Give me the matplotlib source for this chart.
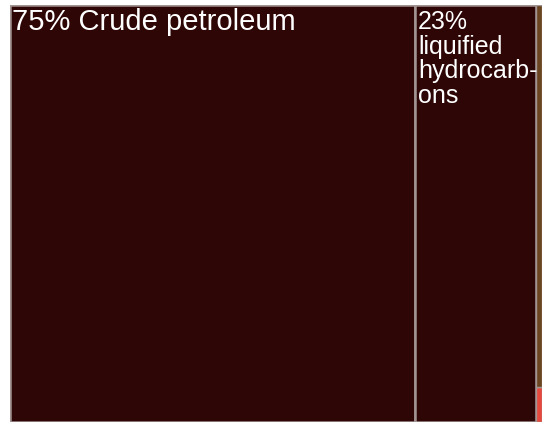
import matplotlib
matplotlib.use("Agg")
import matplotlib.pyplot as plt
from matplotlib.patches import Rectangle

# Data
labels = ["Crude petroleum", "liquified\nhydrocarb-\nons", "Other", "Other 2"]
pct_labels = ["75%", "23%"]
shares = [76.1, 22.8, 0.85, 0.25]
colors = ["#2d0605", "#2d0605", "#6b4420", "#e5483c"]

fig = plt.figure(figsize=(5.42, 4.26), dpi=100)
ax = fig.add_axes([10/542, 4/426, 532/542, 417/426])
ax.set_xlim(0, 100)
ax.set_ylim(0, 100)
ax.axis("off")

total = sum(shares)
x = 0.0
for i in range(2):
    w = shares[i] / total * 100
    ax.add_patch(Rectangle((x, 0), w, 100, facecolor=colors[i],
                           edgecolor="#a39494", linewidth=1.8))
    x += w
wl = (shares[2] + shares[3]) / total * 100
h_red = 8.5
ax.add_patch(Rectangle((x, 0), wl, h_red, facecolor=colors[3],
                       edgecolor="#a39494", linewidth=1.0))
ax.add_patch(Rectangle((x, h_red), wl, 100 - h_red, facecolor=colors[2],
                       edgecolor="#a39494", linewidth=1.0))

w0 = shares[0] / total * 100
ax.text(0.4, 99.4, f"{pct_labels[0]} {labels[0]}",
        color="white", fontsize=21, family="Liberation Sans", va="top", ha="left")
ax.text(w0 + 0.6, 98.8, f"{pct_labels[1]}\n{labels[1]}", color="white",
        fontsize=18, family="Liberation Sans", va="top", ha="left",
        linespacing=1.03)

fig.savefig("out.png", dpi=100, facecolor="white")
